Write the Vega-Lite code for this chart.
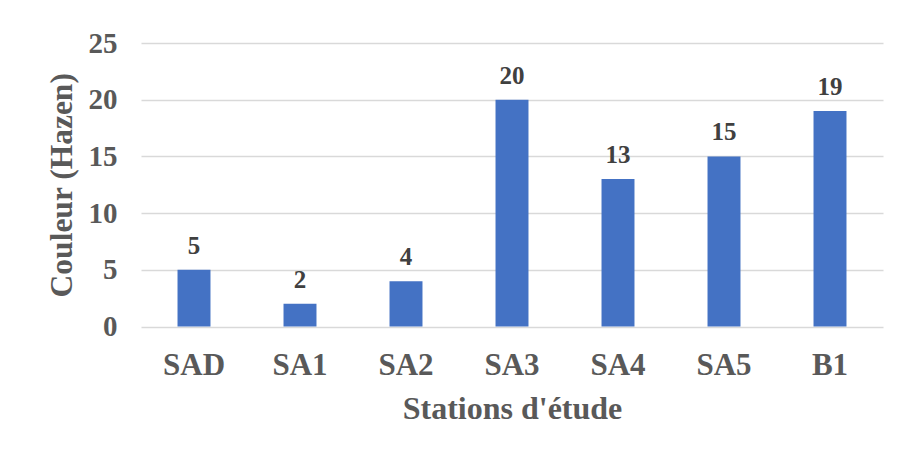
{
  "$schema": "https://vega.github.io/schema/vega-lite/v6.json",
  "width": 742,
  "height": 283.5,
  "autosize": "none",
  "padding": {"left": 141, "top": 43, "right": 16, "bottom": 123.5},
  "background": "white",
  "config": {"view": {"stroke": null}, "font": "Liberation Serif"},
  "data": {
    "values": [
      {"station": "SAD", "value": 5},
      {"station": "SA1", "value": 2},
      {"station": "SA2", "value": 4},
      {"station": "SA3", "value": 20},
      {"station": "SA4", "value": 13},
      {"station": "SA5", "value": 15},
      {"station": "B1", "value": 19}
    ]
  },
  "encoding": {
    "x": {
      "field": "station",
      "type": "nominal",
      "sort": null,
      "scale": {"paddingInner": 0.689, "paddingOuter": 0.3445},
      "axis": {
        "title": "Stations d'étude",
        "labelAngle": 0,
        "domain": false,
        "ticks": false,
        "labelFont": "Liberation Serif",
        "labelFontWeight": "bold",
        "labelFontSize": 31,
        "labelColor": "#595959",
        "labelBaseline": "alphabetic",
        "labelPadding": 48,
        "titleFont": "Liberation Serif",
        "titleFontWeight": "bold",
        "titleFontSize": 32,
        "titleColor": "#595959",
        "titlePadding": 13
      }
    },
    "y": {
      "field": "value",
      "type": "quantitative",
      "scale": {"domain": [0, 25], "nice": false},
      "axis": {
        "title": "Couleur (Hazen)",
        "values": [0, 5, 10, 15, 20, 25],
        "domain": false,
        "ticks": false,
        "grid": true,
        "gridColor": "#d9d9d9",
        "gridWidth": 1.3,
        "labelFont": "Liberation Serif",
        "labelFontWeight": "bold",
        "labelFontSize": 29,
        "labelColor": "#595959",
        "labelPadding": 24,
        "titleFont": "Liberation Serif",
        "titleFontWeight": "bold",
        "titleFontSize": 31.5,
        "titleColor": "#595959",
        "titlePadding": 10
      }
    }
  },
  "layer": [
    {"mark": {"type": "bar", "color": "#4472C4"}},
    {
      "mark": {
        "type": "text",
        "font": "Liberation Serif",
        "fontWeight": "bold",
        "fontSize": 25,
        "color": "#404040",
        "baseline": "alphabetic",
        "dy": -16
      },
      "encoding": {"text": {"field": "value", "type": "quantitative"}}
    }
  ]
}
